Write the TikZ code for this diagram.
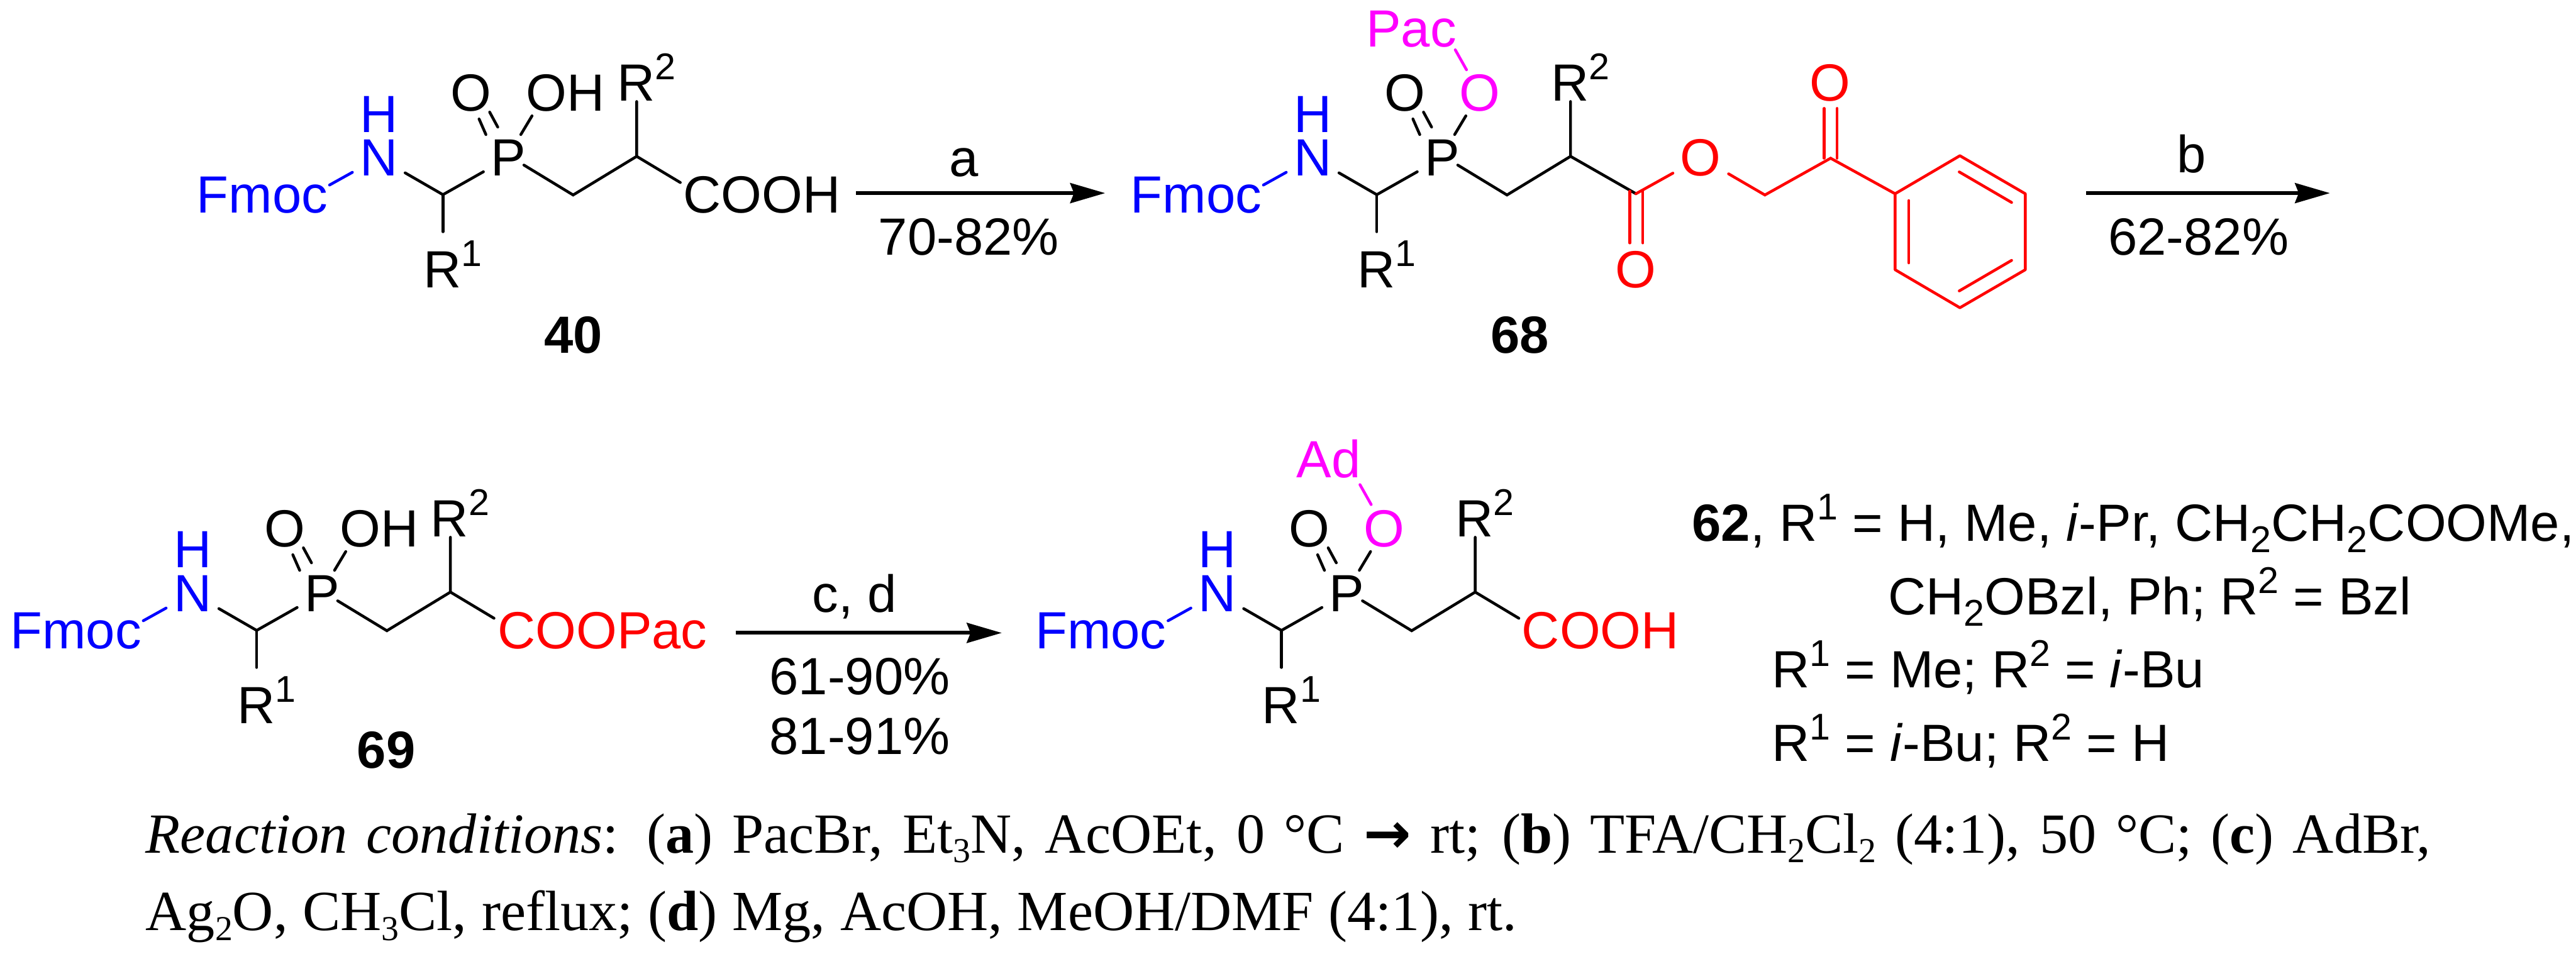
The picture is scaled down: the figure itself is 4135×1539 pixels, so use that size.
\documentclass[tikz,border=0pt]{standalone}
\usepackage{fontspec}
\setmainfont{Liberation Sans}
\newfontfamily\capfont{Liberation Serif}
\newfontfamily\arrowfont{DejaVu Sans}
\usetikzlibrary{arrows.meta}
\definecolor{acyl}{RGB}{255,0,255}
\newcommand{\rsup}[1]{\raisebox{0.34cm}{\fontsize{17}{17}\selectfont #1}}
\newcommand{\rsub}[1]{\raisebox{-0.18cm}{\fontsize{17}{17}\selectfont #1}}
\newcommand{\csub}[1]{\raisebox{-0.16cm}{\fontsize{16}{16}\selectfont #1}}
\tikzset{
  atom/.style={anchor=base,inner sep=0pt,outer sep=0.12cm,font=\fontsize{23.9}{28}\selectfont},
  txt/.style={anchor=base west,inner sep=0pt,outer sep=0pt,font=\fontsize{23.9}{28}\selectfont},
  captxt/.style={anchor=base west,inner sep=0pt,outer sep=0pt,font=\capfont\fontsize{25.9}{30}\selectfont},
  bond/.style={line width=0.045cm,line cap=round},
  rxn/.style={line width=0.06cm,-{Stealth[length=0.56cm,width=0.32cm,inset=0.06cm]}}
}
\newcommand{\pepcore}{
   \node[atom,blue] (fmoc) at (-395,60) {Fmoc};
   \node[atom,blue] (nh) at (-208,0) {N};
   \node[atom,blue,outer sep=0pt] (hn) at (-208,-70) {H};
   \node[atom] (phos) at (0,0) {P};
   \node[atom] (oxo) at (-60,-103.4) {O};
   \node[txt] (rone) at (-136,180) {R\rsup{1}};
   \node[txt] (rtwo) at (174.5,-120) {R\rsup{2}};
   \coordinate (cone) at (-105,30.5);
   \coordinate (ctwo) at (104,31);
   \coordinate (cthree) at (206,-31);
   \coordinate (fb) at (-287,15);
   \coordinate (re) at (-105,90);
   \coordinate (se) at (206,-119);
   \coordinate (pb) at (25,-17);
   \coordinate (oa) at (-36,-66); \coordinate (ob) at (-47,-91);
   \coordinate (oc) at (-17,-78); \coordinate (od) at (-30,-102);
   \coordinate (pa) at (20,-66); \coordinate (pd) at (38,-96);
   \draw[bond,blue] (fb) -- (nh);
   \draw[bond] (nh) -- (cone) -- (phos);
   \draw[bond] (cone) -- (re);
   \draw[bond] (oa) -- (ob);
   \draw[bond] (oc) -- (od);
   \draw[bond] (pa) -- (pd);
   \draw[bond] (pb) -- (ctwo) -- (cthree) -- (se);
}
\begin{document}
\begin{tikzpicture}[x=0.01cm,y=-0.01cm]
   \useasboundingbox (0,0) rectangle (4135,1539);
   % 40
   \begin{scope}[shift={(816,282)},name prefix=a-]
     \pepcore
     \node[txt] (oh) at (28.5,-103.4) {OH};
     \node[txt] (cooh) at (281,60) {COOH};
     \coordinate (ce) at (276,11);
     \draw[bond] (cthree) -- (ce);
   \end{scope}
   \node[atom,font=\fontsize{23.9}{28}\selectfont\bfseries] (numa) at (920,567) {40};
   % 68
   \begin{scope}[shift={(2315,282)},name prefix=b-]
     \pepcore
     \node[atom,acyl] (oy) at (60,-103.4) {O};
     \node[atom,acyl] (pac) at (-49.5,-207) {Pac};
     \coordinate (ya) at (39,-170); \coordinate (yb) at (21,-202);
     \draw[bond,acyl] (ya) -- (yb);
     \coordinate (cf) at (311,29);
     \draw[bond] (cthree) -- (cf);
     \node[atom,red] (oe) at (415,0) {O};
     \node[atom,red] (of) at (311,180) {O};
     \node[atom,red] (og) at (623,-119.5) {O};
     \coordinate (ch) at (518,31);
     \coordinate (ck) at (623.5,-28);
     \coordinate (r1) at (727,29); \coordinate (r2) at (831,-32);
     \coordinate (r3) at (936,29); \coordinate (r4) at (936,151);
     \coordinate (r5) at (831,212); \coordinate (r6) at (727,151);
     \coordinate (ea) at (301,25); \coordinate (eb) at (301,108);
     \coordinate (ec) at (322,25); \coordinate (ed) at (322,108);
     \coordinate (ka) at (613,-28); \coordinate (kb) at (613,-108);
     \coordinate (kc) at (634,-28); \coordinate (kd) at (634,-108);
     \coordinate (la) at (749,40); \coordinate (lb) at (749,140);
     \coordinate (lc) at (830,-6); \coordinate (ld) at (914,43);
     \coordinate (le) at (914,136); \coordinate (lf) at (830,185);
     \draw[bond,red] (cf) -- (oe) -- (ch) -- (ck) -- (r1);
     \draw[bond,red] (ea) -- (eb);
     \draw[bond,red] (ec) -- (ed);
     \draw[bond,red] (ka) -- (kb);
     \draw[bond,red] (kc) -- (kd);
     \draw[bond,red,line join=round] (r1) -- (r2) -- (r3) -- (r4) -- (r5) -- (r6) -- cycle;
     \draw[bond,red] (la) -- (lb);
     \draw[bond,red] (lc) -- (ld);
     \draw[bond,red] (le) -- (lf);
   \end{scope}
   \node[atom,font=\fontsize{23.9}{28}\selectfont\bfseries] (numb) at (2440,567) {68};
   % 69
   \begin{scope}[shift={(517,981.5)},name prefix=c-]
     \pepcore
     \node[txt] (oh) at (28.5,-103.4) {OH};
     \node[txt,red] (coopac) at (282,60) {COOPac};
     \coordinate (ce) at (276,11);
     \draw[bond] (cthree) -- (ce);
   \end{scope}
   \node[atom,font=\fontsize{23.9}{28}\selectfont\bfseries] (numc) at (620,1233) {69};
   % product
   \begin{scope}[shift={(2162,981.5)},name prefix=d-]
     \pepcore
     \node[atom,acyl] (oy) at (60,-103.4) {O};
     \node[atom,acyl] (ad) at (-29,-214.5) {Ad};
     \coordinate (ya) at (39,-171.5); \coordinate (yb) at (21,-203.5);
     \draw[bond,acyl] (ya) -- (yb);
     \node[txt,red] (cooh) at (281,60) {COOH};
     \coordinate (ce) at (276,11);
     \draw[bond] (cthree) -- (ce);
   \end{scope}
   % arrows
   \coordinate (aa) at (1374,310); \coordinate (ab) at (1774,310);
   \coordinate (ba) at (3349,310); \coordinate (bb) at (3740,310);
   \coordinate (ca) at (1181,1016); \coordinate (cb) at (1608,1016);
   \draw[rxn] (aa) -- (ab);
   \draw[rxn] (ba) -- (bb);
   \draw[rxn] (ca) -- (cb);
   \node[atom] (la) at (1547,283) {a};
   \node[atom] (ly) at (1555,409) {70-82\%};
   \node[atom] (lb) at (3518,277) {b};
   \node[atom] (lz) at (3529,409) {62-82\%};
   \node[atom] (lc) at (1372,983) {c, d};
   \node[atom] (lu) at (1380,1115) {61-90\%};
   \node[atom] (lv) at (1380,1211) {81-91\%};
   % substituents
   \node[txt] (sa) at (2716,868.7) {\textbf{62}, R\rsup{1} = H, Me, \textit{i}-Pr, CH\rsub{2}CH\rsub{2}COOMe,};
   \node[txt] (sb) at (3031,986.7) {CH\rsub{2}OBzl, Ph; R\rsup{2} = Bzl};
   \node[txt] (sc) at (2844,1104) {R\rsup{1} = Me; R\rsup{2} = \textit{i}-Bu};
   \node[txt] (sd) at (2844,1222) {R\rsup{1} = \textit{i}-Bu; R\rsup{2} = H};
   % conditions
   \node[captxt] (ta) at (234,1369) {\makebox[36.66cm][s]{\textit{Reaction conditions}: (\textbf{a}) PacBr, Et\csub{3}N, AcOEt, 0 °C {\arrowfont\bfseries →} rt; (\textbf{b}) TFA/CH\csub{2}Cl\csub{2} (4:1), 50 °C; (\textbf{c}) AdBr,}};
   \node[captxt] (tb) at (234,1494) {\makebox[22cm][s]{Ag\csub{2}O, CH\csub{3}Cl, reflux; (\textbf{d}) Mg, AcOH, MeOH/DMF (4:1), rt.}};
\end{tikzpicture}
\end{document}
